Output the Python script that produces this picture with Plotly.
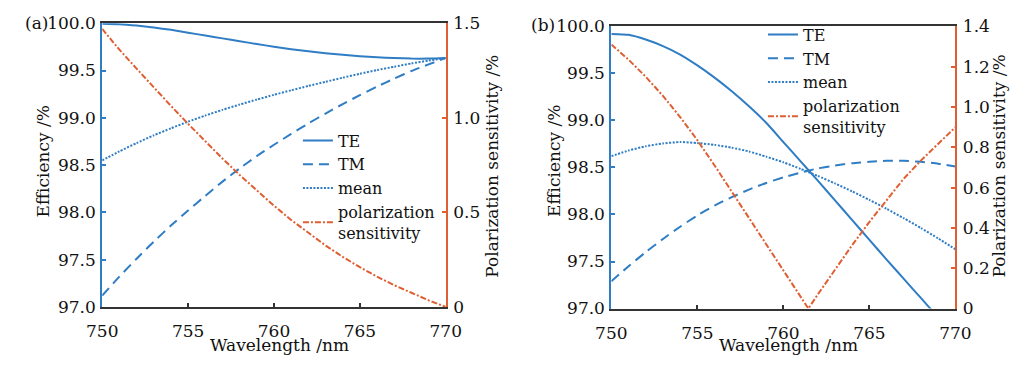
import plotly.graph_objects as go

# ---------------- data ----------------
wavelength = [750, 751, 752, 753, 754, 755, 756, 757, 758, 759, 760,
              761, 762, 763, 764, 765, 766, 767, 768, 769, 770]

# panel (a)
te_a = [99.995, 99.99, 99.975, 99.955, 99.93, 99.90, 99.87, 99.84, 99.81, 99.78, 99.752,
        99.726, 99.703, 99.683, 99.666, 99.652, 99.641, 99.632, 99.626, 99.626, 99.632]
tm_a = [97.12, 97.32, 97.51, 97.69, 97.86, 98.02, 98.175, 98.325, 98.465, 98.595, 98.715,
        98.83, 98.94, 99.045, 99.145, 99.24, 99.33, 99.415, 99.495, 99.565, 99.632]
mean_a = [98.55, 98.645, 98.733, 98.814, 98.889, 98.959, 99.024, 99.084, 99.14, 99.193, 99.243,
          99.291, 99.337, 99.381, 99.424, 99.466, 99.505, 99.54, 99.575, 99.605, 99.632]
ps_a = [1.47, 1.36, 1.26, 1.16, 1.063, 0.968, 0.875, 0.785, 0.698, 0.615, 0.535,
        0.46, 0.39, 0.325, 0.265, 0.21, 0.16, 0.115, 0.075, 0.035, 0.0]

# panel (b)
te_b = [99.92, 99.91, 99.86, 99.79, 99.70, 99.585, 99.455, 99.31, 99.15, 98.975, 98.77,
        98.565, 98.36, 98.15, 97.94, 97.73, 97.52, 97.315, 97.11, 96.905, 96.70]
tm_b = [97.29, 97.45, 97.60, 97.74, 97.87, 97.99, 98.095, 98.185, 98.265, 98.335, 98.395,
        98.445, 98.49, 98.52, 98.545, 98.56, 98.57, 98.57, 98.56, 98.54, 98.51]
mean_b = [98.62, 98.68, 98.725, 98.755, 98.77, 98.76, 98.74, 98.71, 98.67, 98.615, 98.555,
          98.485, 98.41, 98.33, 98.245, 98.155, 98.06, 97.96, 97.855, 97.745, 97.63]
wavelength_ps_b = [750, 751, 752, 753, 754, 755, 756, 757, 758, 759, 760, 761, 761.45,
                   762, 763, 764, 765, 766, 767, 768, 769, 770]
ps_b = [1.31, 1.235, 1.15, 1.055, 0.95, 0.835, 0.71, 0.58, 0.45, 0.32, 0.19, 0.06, 0.0,
        0.07, 0.195, 0.315, 0.43, 0.54, 0.645, 0.735, 0.82, 0.90]

x_ticks = [750, 755, 760, 765, 770]
eff_ticks = [97.0, 97.5, 98.0, 98.5, 99.0, 99.5, 100.0]
eff_ticktext = ["97.0", "97.5", "98.0", "98.5", "99.0", "99.5", "100.0"]
ps_ticks_a = [0, 0.5, 1.0, 1.5]
ps_ticktext_a = ["0", "0.5", "1.0", "1.5"]
ps_ticks_b = [0, 0.2, 0.4, 0.6, 0.8, 1.0, 1.2, 1.4]
ps_ticktext_b = ["0", "0.2", "0.4", "0.6", "0.8", "1.0", "1.2", "1.4"]

# ---------------- style ----------------
BLUE = "#2F7DC4"
ORANGE = "#DF5F33"
FONT = "DejaVu Serif"
FS = 17
LFS = 16
W, H = 1026, 368

fig = go.Figure()

def add_panel(xa, ya, ya2, te, tm, mean, wl_ps, ps, legend):
    fig.add_trace(go.Scatter(x=wavelength, y=te, name="TE", mode="lines",
                             line=dict(color=BLUE, width=2, shape="spline", smoothing=0.5),
                             xaxis=xa, yaxis=ya, legend=legend))
    fig.add_trace(go.Scatter(x=wavelength, y=tm, name="TM", mode="lines",
                             line=dict(color=BLUE, width=2, dash="10px,6px", shape="spline", smoothing=0.5),
                             xaxis=xa, yaxis=ya, legend=legend))
    fig.add_trace(go.Scatter(x=wavelength, y=mean, name="mean", mode="lines",
                             line=dict(color=BLUE, width=2, dash="2px,1.5px", shape="spline", smoothing=0.5),
                             xaxis=xa, yaxis=ya, legend=legend))
    fig.add_trace(go.Scatter(x=wl_ps, y=ps, name="polarization<br>sensitivity", mode="lines",
                             line=dict(color=ORANGE, width=2, dash="6px,2px,2px,2px"),
                             xaxis=xa, yaxis=ya2, legend=legend))

add_panel("x", "y", "y2", te_a, tm_a, mean_a, wavelength, ps_a, "legend")
add_panel("x2", "y3", "y4", te_b, tm_b, mean_b, wavelength_ps_b, ps_b, "legend2")

tfont = dict(family=FONT, size=FS, color="#111")

def xaxis(domain, anchor):
    return dict(domain=domain, anchor=anchor, range=[750, 770], tickvals=x_ticks,
                showgrid=False, zeroline=False, showline=True, linecolor="#333", linewidth=2,
                mirror=True, ticks="inside", ticklen=4, tickwidth=1.5, tickcolor="#333",
                tickfont=tfont, ticklabelstandoff=8)

def yleft(domain, anchor):
    return dict(domain=domain, anchor=anchor, range=[97, 100], tickvals=eff_ticks,
                ticktext=eff_ticktext, showgrid=False, zeroline=False, showline=True,
                linecolor=BLUE, linewidth=2, ticks="inside", ticklen=4, tickwidth=1.5,
                tickcolor=BLUE, tickfont=tfont, ticklabelstandoff=1)

def yright(overlay, anchor, rng, tv, tt):
    return dict(overlaying=overlay, anchor=anchor, side="right", range=rng, tickvals=tv,
                ticktext=tt, showgrid=False, zeroline=False, showline=True,
                linecolor=ORANGE, linewidth=2, ticks="inside", ticklen=4, tickwidth=1.5,
                tickcolor=ORANGE, tickfont=tfont, ticklabelstandoff=2)

dom_a_x = [89 / W, 443.6 / W]
dom_b_x = [614.5 / W, 969.7 / W]
dom_a_y = [(H - 314) / H, (H - 14) / H]
dom_b_y = [(H - 315.7) / H, (H - 17.3) / H]

legend_common = dict(font=dict(family=FONT, size=LFS, color="#111"), bgcolor="rgba(0,0,0,0)",
                     borderwidth=0, xanchor="left", yanchor="top", tracegroupgap=0,
                     itemclick=False)

def ann(text, px, py, angle=0, anchor="center", vanchor="middle"):
    return dict(text=text, x=px / W, y=1 - py / H, xref="paper", yref="paper",
                xanchor=anchor, yanchor=vanchor, showarrow=False, textangle=angle,
                font=tfont)

fig.update_layout(
    width=W, height=H,
    margin=dict(l=0, r=0, t=0, b=0),
    paper_bgcolor="white", plot_bgcolor="white",
    font=tfont,
    xaxis=xaxis(dom_a_x, "y"),
    yaxis=yleft(dom_a_y, "x"),
    yaxis2=yright("y", "x", [0, 1.5], ps_ticks_a, ps_ticktext_a),
    xaxis2=xaxis(dom_b_x, "y3"),
    yaxis3=yleft(dom_b_y, "x2"),
    yaxis4=yright("y3", "x2", [0, 1.4], ps_ticks_b, ps_ticktext_b),
    legend=dict(x=291 / W, y=1 - 120 / H, **legend_common),
    legend2=dict(x=771 / W, y=1 - 8 / H, **legend_common),
    annotations=[
        ann("(a)", 7, 14, anchor="left"),
        ann("(b)", 530, 16, anchor="left"),
        ann("Wavelength /nm", 272, 367, vanchor="bottom"),
        ann("Wavelength /nm", 797, 367, vanchor="bottom"),
        ann("Efficiency /%", 28, 160, angle=-90),
        ann("Efficiency /%", 556, 160, angle=-90),
        ann("Polarization sensitivity /%", 491, 165, angle=-90),
        ann("Polarization sensitivity /%", 1015, 165, angle=-90),
    ],
)

fig.write_html("out.html")
